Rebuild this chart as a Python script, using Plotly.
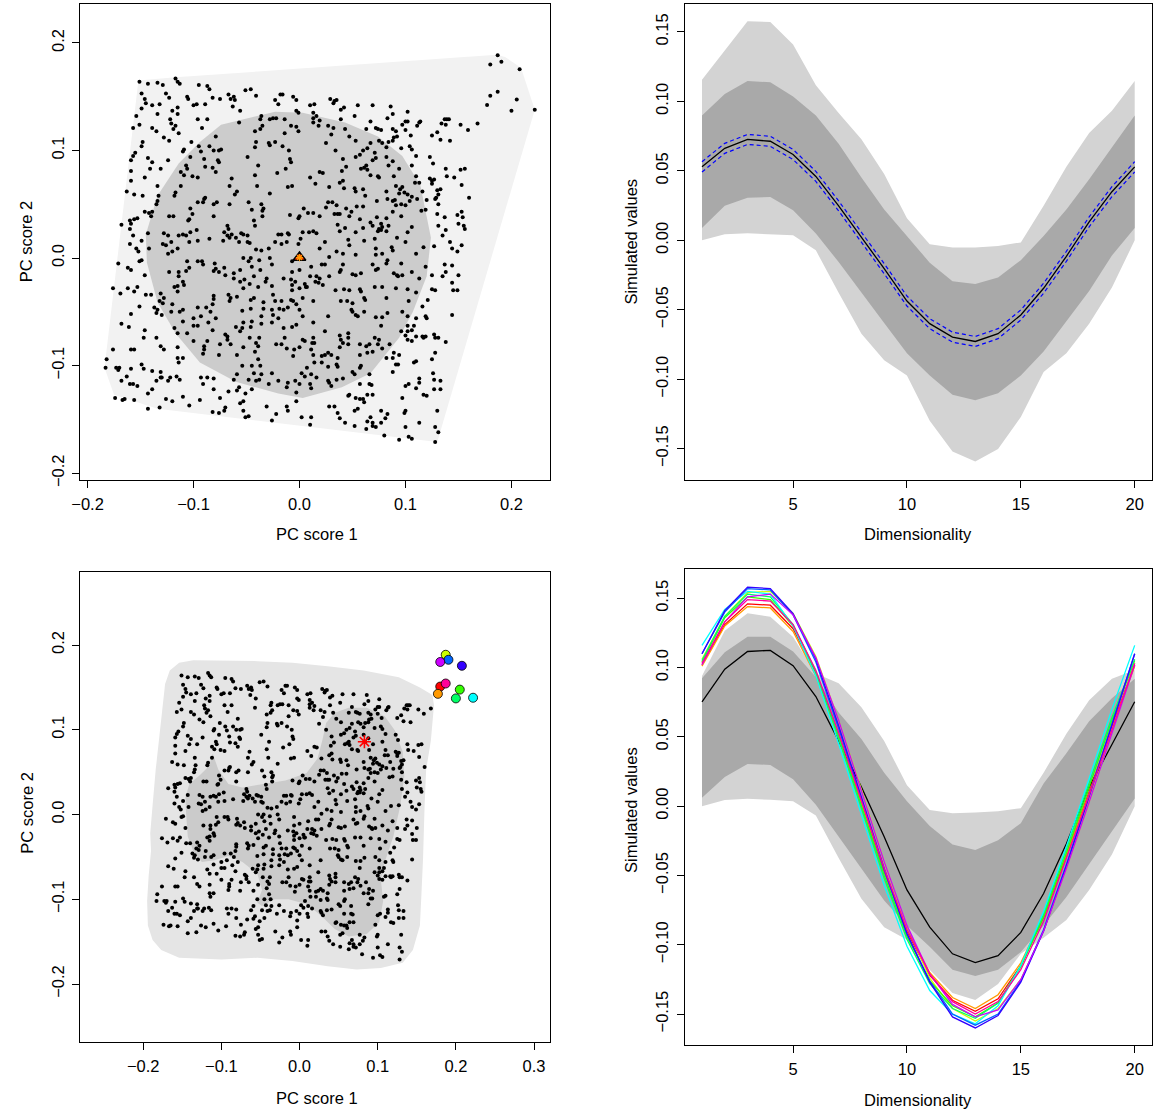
import plotly.graph_objects as go

# ---------------- data ----------------
# PC scores of the sample curves (in units of 0.001)
scores_milli = [
(-151,164),(-143,162),(-134,163),(-129,161),(-117,167),(-115,164),(-113,162),(-95,161),(-87,160),(-85,157),
(-149,153),(-146,148),(-145,144),(-139,142),(-132,143),(-126,153),(-123,149),(-106,150),(-105,148),(-100,142),
(-97,143),(-89,143),(-82,149),(-75,148),(-67,152),(-65,148),(-62,150),(-61,147),(-63,141),(-51,156),
(-46,157),(-41,151),(-18,152),(-16,152),(-23,147),(-20,143),(-6,150),(-3,147),(10,142),(14,143),
(-149,139),(-154,132),(-151,124),(-157,121),(-134,134),(-120,137),(-115,140),(-115,134),(-122,129),(-121,125),
(-117,123),(-114,116),(-119,120),(-139,121),(-135,118),(-96,129),(-87,129),(-92,121),(-56,137),(-57,126),
(-36,132),(-37,129),(-28,129),(-25,130),(-22,130),(-14,129),(-3,137),(-1,135),(-3,122),(-1,118),
(13,135),(13,130),(13,126),(-42,118),(-37,120),(-35,123),(-14,116),(-8,123),
(-148,108),(-149,104),(-155,98),(-157,95),(-159,91),(-143,93),(-139,89),(-141,83),(-146,75),(-159,81),
(-159,72),(-163,62),(-156,59),(-148,58),(-128,112),(-123,109),(-124,91),(-131,83),(-134,67),(-109,101),
(-110,99),(-102,108),(-95,104),(-93,99),(-103,94),(-107,86),(-106,83),(-112,80),(-109,77),(-101,76),
(-96,75),(-90,92),(-89,85),(-85,104),(-81,100),(-76,100),(-74,101),(-79,113),(-77,91),(-79,80),
(-82,84),(-76,89),(-64,74),(-66,67),(-61,59),(-59,62),(-41,108),(-42,103),(-49,94),(-39,86),
(-42,77),(-40,67),(-29,107),(-28,105),(-23,108),(-16,104),(-10,100),(-9,92),(-8,89),(-13,83),
(-21,79),(-11,66),(-7,67),(-28,60),(10,75),(15,69),
(-168,31),(-160,35),(-159,32),(-156,36),(-153,37),(-160,27),(-157,21),(-160,13),(-154,9),(-152,6),
(-149,16),(-146,43),(-142,42),(-139,43),(-140,39),(-135,50),(-133,58),(-134,53),(-143,23),(-142,9),
(-128,23),(-124,21),(-121,15),(-126,12),(-129,13),(-123,39),(-119,39),(-117,61),(-118,58),(-112,67),
(-105,35),(-104,36),(-101,41),(-103,46),(-96,52),(-91,52),(-90,55),(-97,26),(-103,24),(-107,21),
(-114,21),(-110,22),(-104,15),(-115,9),(-120,6),(-124,4),(-81,50),(-78,52),(-66,50),(-89,56),
(-81,39),(-71,24),(-68,30),(-67,27),(-66,19),(-72,16),(-68,21),(-64,22),(-60,19),(-57,15),
(-55,23),(-53,22),(-49,21),(-47,14),(-49,15),(-48,52),(-45,45),(-43,35),(-42,30),(-36,50),
(-34,46),(-35,44),(-35,39),(-41,8),(-36,7),(-29,9),(-23,15),(-20,22),(-17,13),(-17,22),
(-12,15),(-11,23),(-10,22),(-9,40),(0,39),(-1,37),(1,18),(4,46),(8,42),(13,42),
(3,24),(9,24),(13,25),(-1,13),(-85,18),(-96,16),
(29,148),(33,146),(35,147),(32,144),(39,138),(42,140),(55,142),(69,142),(86,141),(88,134),
(102,136),(83,130),(16,132),(19,128),(18,123),(27,123),(32,121),(39,129),(52,132),(67,127),
(72,121),(74,120),(77,119),(63,120),(47,113),(43,120),(30,115),(25,107),(88,120),(91,118),
(92,113),(89,112),(88,109),(97,124),(100,119),(100,127),(102,127),(111,123),(113,126),(114,127),
(105,114),(104,104),(106,101),(96,102),(84,108),(82,103),(78,107),(75,109),(67,107),(64,102),
(60,100),(53,109),(57,96),(53,94),(34,100),(41,92),(44,85),(40,81),(58,83),(61,84),
(63,86),(64,82),(67,77),(69,91),(72,93),(74,76),(75,75),(71,98),(82,94),(84,86),
(88,90),(94,83),(89,76),(110,95),(106,86),(110,76),(113,70),(109,70),(123,94),(126,88),
(125,114),(130,117),(133,110),(134,125),(137,129),(139,129),(141,129),(138,124),(142,109),(152,124),
(159,119),(168,125),(138,83),(139,76),(146,75),(152,82),(156,83),(153,68),(160,56),(123,74),
(125,72),(127,73),(125,69),(130,63),(133,64),(131,59),(128,55),(129,56),(131,50),(116,62),
(120,54),(111,55),(102,59),(99,61),(91,67),(95,64),(97,66),(94,60),(88,53),(90,54),
(96,50),(91,49),(100,49),(104,53),(106,57),(73,53),(82,62),(83,55),(73,38),(82,37),
(96,39),(88,43),(84,30),(77,32),(78,29),(75,27),(74,25),(82,25),(69,30),(67,33),
(57,36),(47,39),(38,41),(36,31),(43,28),(38,25),(53,24),(60,28),(62,58),(60,64),
(53,62),(52,65),(44,46),(49,43),(54,48),(60,48),(19,80),(22,79),(28,66),(38,70),
(41,72),(42,65),(31,52),(27,52),(25,47),(35,49),(33,41),(36,41),(19,39),(16,23),
(19,9),(24,15),(28,1),(35,6),(41,4),(46,17),(47,12),(53,3),(61,16),(71,18),
(72,9),(78,4),(87,10),(88,7),(92,19),(100,15),(102,24),(106,29),(110,4),(117,10),
(127,11),(131,30),(135,21),(138,26),(142,15),(144,9),(149,6),(150,32),(155,30),(156,27),
(153,12),(149,40),(153,43),(154,38),(130,41),(137,38),(119,45),(115,44),(77,26),(72,3),
(-149,-2),(-151,-3),(-171,-5),(-162,-9),(-159,-11),(-146,-16),(-176,-28),(-169,-33),(-162,-28),(-156,-31),
(-153,-27),(-145,-34),(-140,-34),(-151,-45),(-137,-46),(-134,-48),(-129,-42),(-159,-52),(-168,-61),(-161,-64),
(-146,-67),(-147,-74),(-135,-74),(-131,-82),(-128,-85),(-176,-85),(-159,-85),(-156,-85),(-182,-94),(-183,-102),
(-173,-102),(-170,-102),(-171,-104),(-159,-103),(-149,-99),(-147,-103),(-163,-110),(-168,-114),(-160,-117),(-157,-117),
(-153,-119),(-139,-105),(-131,-106),(-130,-111),(-135,-114),(-143,-126),(-139,-122),(-165,-131),(-167,-132),(-174,-130),
(-156,-132),(-143,-140),(-132,-139),(-126,-131),(-120,-133),(-110,-129),(-104,-137),(-94,-132),(-91,-117),(-87,-111),
(-81,-112),(-93,-111),(-81,-122),(-75,-130),(-82,-143),(-76,-144),(-70,-139),(-71,-142),(-67,-124),(-59,-123),
(-57,-120),(-62,-113),(-53,-133),(-56,-135),(-51,-126),(-53,-142),(-51,-148),(-48,-147),(-45,-122),(-31,-138),
(-22,-145),(-26,-151),(-12,-138),(-11,-142),(-3,-133),(-3,-125),(2,-148),(10,-155),(10,-117),(0,-117),
(-12,-120),(-20,-114),(-29,-117),(-41,-114),(-38,-113),(-48,-113),(-59,-108),(-115,-93),(-114,-97),(-115,-83),
(-110,-93),(-116,-110),(-113,-113),(-122,-111),(-124,-114),(-131,-111),
(-90,-85),(-91,-89),(-110,-48),(-113,-50),(-120,-43),(-121,-50),(-118,-65),(-115,-70),(-100,-63),(-86,-60),
(-82,-67),(-90,-82),(-75,-80),(-70,-71),(-68,-73),(-65,-80),(-76,-90),(-59,-90),(-53,-83),(-60,-64),
(-54,-65),(-47,-74),(-38,-74),(-41,-79),(-39,-82),(-42,-87),(-39,-94),(-54,-100),(-45,-100),(-37,-100),
(-43,-107),(-36,-108),(-26,-107),(-11,-116),(-4,-114),(2,-107),(5,-110),(7,-102),(14,-97),(-6,-91),
(-5,-85),(0,-83),(3,-76),(5,-77),(12,-79),(13,-74),(-14,-74),(-22,-80),(-17,-80),(-12,-84),
(-15,-65),(-7,-64),(-3,-62),(3,-54),(-23,-40),(-17,-40),(-6,-40),(-3,-43),(0,-48),(3,-37),
(13,-40),(-25,-34),(-34,-41),(-34,-47),(-36,-54),(-25,-53),(-20,-56),(-26,-48),(-46,-47),(-46,-39),
(-43,-37),(-54,-49),(-65,-37),(-66,-40),(-59,-36),(-67,-34),(-81,-35),(-81,-38),(-96,-46),(-88,-46),
(-84,-50),(-82,-43),(-79,-56),(-93,-54),(-100,-56),(-110,-59),
(-106,-70),(-100,-77),(-87,-77),(-96,-63),(-68,-76),(-56,-68),(-53,-60),(-45,-59),(-46,-64),(-36,-61),
(-26,-60),(-15,-48),(-19,-47),(-11,-46),(-8,-39),(-4,-22),(10,-17),(15,-22),(5,-24),(0,-28),
(6,-27),(-7,-25),(-7,-30),(-8,-20),(-15,-19),(-26,-26),(-32,-22),(-31,-19),(-39,-27),(-47,-24),
(-53,-28),(-43,-17),(-52,-20),(-56,-22),(-62,-19),(-70,-16),(-76,-13),(-79,-10),(-81,-12),(-71,-9),
(-62,-14),(-56,-11),(-48,-3),(-46,0),(-45,-8),(-37,-11),(-26,-6),(-28,0),(-38,-2),(-53,0),
(-80,-5),(-96,-3),(-92,-3),(-91,-6),(-104,-9),(-107,-12),(-114,-13),(-114,-17),(-123,-13),(-106,-3),
(-110,-22),(-109,-25),(-115,-26),(-115,-31),(-118,-27),(-128,-37),(-131,-33),(-132,-40),(-135,-51),(-130,-53),
(-7,-3),(0,-11),(11,-8),(-7,-13),
(83,-2),(21,-6),(24,-6),(16,-17),(19,-19),(28,-17),(38,-13),(39,-11),(41,-6),(50,-15),
(53,-16),(58,-14),(69,-6),(74,-10),(72,-11),(82,-5),(89,-14),(92,-16),(93,-17),(97,-16),
(96,-5),(106,-13),(113,-19),(119,-8),(125,-16),(135,-17),(138,-13),(137,-6),(144,-7),(150,-16),
(144,-23),(145,-30),(149,-30),(125,-29),(128,-30),(121,-39),(116,-45),(119,-54),(120,-56),(144,-53),
(7,-27),(18,-23),(22,-25),(34,-30),(42,-29),(47,-30),(57,-29),(58,-31),(61,-37),(62,-39),
(71,-27),(78,-27),(82,-37),(91,-28),(102,-29),(110,-32),(103,-40),(97,-50),(102,-54),(110,-56),
(13,-60),(27,-54),(39,-40),(45,-40),(50,-42),(49,-48),(50,-50),(53,-53),(55,-54),(61,-50),
(72,-55),(78,-55),(83,-51),(75,-76),(71,-74),(66,-80),(63,-82),(74,-80),(69,-87),(77,-63),
(102,-68),(106,-67),(102,-63),(108,-63),(24,-68),(38,-72),(46,-70),(46,-74),(39,-76),(41,-79),
(46,-80),(38,-83),(14,-79),(11,-85),(13,-90),(21,-91),(24,-90),(27,-88),(30,-90),(36,-93),
(57,-80),(57,-90),(64,-88),(21,-97),(27,-101),(35,-99),(36,-101),(11,-108),(16,-111),(11,-121),
(27,-114),(28,-116),(30,-119),(35,-113),(41,-112),(50,-106),(52,-108),(57,-102),(58,-100),(66,-108),
(57,-117),(66,-117),(68,-118),(47,-127),(46,-128),(53,-130),(57,-131),(60,-131),(61,-134),(64,-127),
(69,-127),(11,-148),(28,-138),(33,-138),(36,-144),(38,-149),(43,-153),(52,-142),(55,-140),(52,-156),
(63,-159),(69,-156),(72,-157),(80,-165),(94,-169),(103,-166),(106,-168),(88,-93),(89,-88),(94,-90),
(91,-99),(93,-99),(110,-96),(108,-97),(88,-106),(100,-119),(103,-117),(97,-130),(113,-112),(110,-121),
(113,-116),(117,-127),(120,-128),(126,-107),(127,-113),(133,-114),(133,-122),(127,-122),(130,-142),(131,-162),
(128,-171),(128,-157),(100,-142),(99,-144),(113,-153),(100,-157),(83,-145),(81,-149),(77,-153),(67,-148),
(69,-153),(77,-142),(64,-152),(96,-68),(100,-72),(102,-76),(106,-77),(110,-73),(116,-73),(117,-74),
(119,-73),(127,-71),(128,-74),(131,-74),(138,-78),(128,-88),(125,-94),(82,-93),(78,-84),(85,-80),
]
pc_score1 = [p[0] / 1000 for p in scores_milli]
pc_score2 = [p[1] / 1000 for p in scores_milli]

# outlying curves (PC scores) and their colours
outlier_pc1 = [0.180, 0.177, 0.187, 0.205, 0.200, 0.222, 0.1905, 0.2077, 0.180, 0.187]
outlier_pc2 = [0.151, 0.1424, 0.1885, 0.1474, 0.137, 0.1378, 0.1826, 0.1755, 0.180, 0.1546]
outlier_colors = ["#FF0000", "#FF9900", "#CCFF00", "#33FF00", "#00FF66",
                  "#00FFFF", "#0066FF", "#3300FF", "#CC00FF", "#FF0099"]

# bivariate bagplot: loop and bag polygons, median
loop_pc1 = [-0.152, -0.117, 0.186, 0.194, 0.209, 0.222, 0.130, -0.134, -0.175, -0.184]
loop_pc2 = [0.165, 0.168, 0.189, 0.187, 0.177, 0.138, -0.171, -0.140, -0.127, -0.102]
bag_pc1 = [-0.074, -0.023, 0.003, 0.043, 0.074, 0.097, 0.114, 0.124, 0.120, 0.107, 0.094, 0.067,
           0.040, 0.003, -0.020, -0.060, -0.094, -0.117, -0.134, -0.144, -0.145, -0.134, -0.114, -0.094]
bag_pc2 = [0.124, 0.136, 0.135, 0.126, 0.113, 0.095, 0.068, 0.019, -0.017, -0.050, -0.074, -0.107,
           -0.120, -0.130, -0.126, -0.115, -0.097, -0.070, -0.041, -0.004, 0.022, 0.058, 0.088, 0.108]
median_pc = (0.0, 0.0005)

# bivariate HDR: outer and inner regions, mode
hdr_outer_pc1 = [-0.154, -0.100, -0.054, -0.009, 0.036, 0.073, 0.104, 0.132, 0.145, 0.154, 0.156, 0.158,
                 0.160, 0.162, 0.168, 0.172, 0.170, 0.154, 0.127, 0.082, 0.036, -0.009, -0.054, -0.100,
                 -0.136, -0.154, -0.166, -0.172, -0.175, -0.179, -0.184, -0.188, -0.191, -0.190, -0.193,
                 -0.195, -0.194, -0.188, -0.177]
hdr_outer_pc2 = [-0.169, -0.171, -0.169, -0.173, -0.179, -0.183, -0.181, -0.175, -0.160, -0.131, -0.093,
                 -0.052, 0.011, 0.053, 0.087, 0.129, 0.141, 0.150, 0.162, 0.170, 0.175, 0.179, 0.181,
                 0.182, 0.182, 0.179, 0.170, 0.154, 0.129, 0.095, 0.053, 0.011, -0.022, -0.043, -0.072,
                 -0.102, -0.131, -0.148, -0.160]
hdr_inner_pc1 = [-0.145, -0.146, -0.141, -0.127, -0.116, -0.111, -0.104, -0.091, -0.073, -0.045, -0.018,
                 0.009, 0.023, 0.029, 0.034, 0.045, 0.063, 0.086, 0.109, 0.122, 0.132, 0.134, 0.129,
                 0.120, 0.109, 0.104, 0.107, 0.102, 0.086, 0.063, 0.045, 0.027, 0.009, -0.014, -0.032,
                 -0.048, -0.054, -0.048, -0.054, -0.073, -0.091, -0.109, -0.125, -0.136, -0.143]
hdr_inner_pc2 = [-0.001, 0.020, 0.036, 0.047, 0.057, 0.072, 0.053, 0.036, 0.032, 0.036, 0.040, 0.049,
                 0.066, 0.087, 0.108, 0.120, 0.126, 0.126, 0.116, 0.099, 0.074, 0.045, 0.011, -0.026,
                 -0.056, -0.077, -0.102, -0.127, -0.141, -0.144, -0.135, -0.119, -0.106, -0.100, -0.100,
                 -0.108, -0.104, -0.089, -0.070, -0.056, -0.049, -0.054, -0.056, -0.043, -0.026]
mode_pc = (0.083, 0.0859)

# functional plots
dimensionality = list(range(1, 21))
fbag_outer_upper = [0.1155, 0.1364, 0.1576, 0.1571, 0.1410, 0.1117, 0.0917, 0.0728, 0.0478, 0.0158,
                    -0.0028, -0.0051, -0.0051, -0.0041, -0.0015, 0.0248, 0.0529, 0.0772, 0.0933, 0.1147]
fbag_outer_lower = [0.0, 0.0043, 0.0051, 0.0043, 0.0036, -0.0072, -0.0378, -0.0672, -0.0864, -0.0973,
                    -0.1298, -0.1520, -0.1592, -0.1502, -0.1272, -0.0948, -0.0812, -0.0600, -0.0340, 0.0]
fbag_inner_upper = [0.0899, 0.1053, 0.1147, 0.1137, 0.1035, 0.0899, 0.0695, 0.0452, 0.0222, 0.0031,
                    -0.0161, -0.0294, -0.0314, -0.0268, -0.0143, 0.0031, 0.0222, 0.0439, 0.0669, 0.0899]
fbag_inner_lower = [0.0089, 0.0248, 0.0307, 0.0312, 0.0217, 0.0049, -0.0156, -0.0373, -0.0595, -0.0812,
                    -0.0973, -0.1111, -0.1152, -0.1101, -0.0973, -0.0800, -0.0583, -0.0365, -0.0110, 0.0089]
fbag_median = [0.0529, 0.0662, 0.0726, 0.0713, 0.0618, 0.0460, 0.0248, 0.0023, -0.0204, -0.0437,
               -0.0600, -0.0697, -0.0728, -0.0672, -0.0537, -0.0345, -0.0115, 0.0133, 0.0350, 0.0529]
fbag_ci_upper = [0.0566, 0.0698, 0.0762, 0.0749, 0.0654, 0.0496, 0.0284, 0.0059, -0.0168, -0.0401,
                 -0.0564, -0.0661, -0.0692, -0.0636, -0.0501, -0.0309, -0.0079, 0.0169, 0.0386, 0.0566]
fbag_ci_lower = [0.0492, 0.0626, 0.0690, 0.0677, 0.0582, 0.0424, 0.0212, -0.0013, -0.0240, -0.0473,
                 -0.0636, -0.0733, -0.0764, -0.0708, -0.0573, -0.0381, -0.0151, 0.0097, 0.0314, 0.0492]

fhdr_outer_upper = [0.0940, 0.1265, 0.1392, 0.1367, 0.1220, 0.0957, 0.0886, 0.0714, 0.0471, 0.0151,
                    -0.0028, -0.0051, -0.0046, -0.0036, -0.0015, 0.0241, 0.0522, 0.0765, 0.0919, 0.0983]
fhdr_outer_lower = [0.0, 0.0044, 0.0054, 0.0046, 0.0036, -0.0067, -0.0374, -0.0668, -0.0873, -0.0963,
                    -0.1180, -0.1347, -0.1398, -0.1283, -0.1065, -0.0950, -0.0822, -0.0604, -0.0348, 0.0]
fhdr_inner_upper = [0.0923, 0.1110, 0.1222, 0.1222, 0.1116, 0.0932, 0.0676, 0.0484, 0.0241, 0.0036,
                    -0.0143, -0.0276, -0.0317, -0.0246, -0.0123, 0.0164, 0.0381, 0.0612, 0.0778, 0.0919]
fhdr_inner_lower = [0.0061, 0.0210, 0.0305, 0.0297, 0.0195, 0.0010, -0.0220, -0.0450, -0.0681, -0.0860,
                    -0.1014, -0.1180, -0.1226, -0.1180, -0.1052, -0.0860, -0.0655, -0.0425, -0.0182, 0.0056]
fhdr_mode = [0.0753, 0.0988, 0.1116, 0.1124, 0.1014, 0.0791, 0.0471, 0.0138, -0.0220, -0.0604,
             -0.0873, -0.1065, -0.1129, -0.1078, -0.0911, -0.0630, -0.0271, 0.0138, 0.0445, 0.0753]

# outlying curves (units of 0.001), same order as outlier_colors
outlier_curves_milli = [
    [102, 131, 146, 145, 128, 96, 50, 2, -47, -90, -122, -140, -148, -139, -115, -80, -36, 10, 57, 102],
    [101, 130, 144, 143, 126, 94, 49, 2, -46, -89, -120, -138, -146, -136, -113, -79, -35, 9, 56, 101],
    [106, 137, 154, 155, 139, 108, 62, 12, -40, -87, -124, -146, -155, -146, -125, -90, -45, 3, 53, 103],
    [104, 136, 151, 149, 130, 97, 50, 0, -50, -94, -126, -144, -152, -142, -116, -80, -34, 14, 62, 105],
    [105, 137, 153, 151, 131, 97, 49, -2, -52, -96, -128, -146, -153, -142, -115, -78, -31, 17, 64, 106],
    [116, 142, 155, 153, 130, 94, 45, -6, -57, -101, -133, -150, -157, -144, -115, -76, -29, 20, 70, 116],
    [110, 140, 157, 156, 138, 104, 56, 5, -46, -92, -126, -150, -158, -150, -126, -89, -42, 8, 59, 110],
    [110, 141, 158, 157, 139, 106, 58, 7, -45, -92, -127, -152, -160, -151, -127, -90, -43, 7, 58, 110],
    [102, 133, 151, 153, 138, 107, 62, 11, -40, -86, -121, -143, -152, -147, -125, -90, -45, 3, 52, 102],
    [103, 133, 149, 148, 131, 98, 53, 4, -45, -89, -121, -141, -150, -141, -118, -83, -38, 8, 55, 103],
]

# ---------------- styling ----------------
W, H = 1153, 1120
FONT = "Liberation Sans, Arial, Helvetica, sans-serif"
FS = 16.5
LIGHT_BAG, DARK_BAG = "#f2f2f2", "#cccccc"
HDR_OUT, HDR_IN = "#e5e5e5", "#cbcbcb"
BAND_OUT, BAND_IN = "#d3d3d3", "#a9a9a9"

fig = go.Figure()


def poly(xs, ys, color, xa, ya):
    fig.add_trace(go.Scatter(x=list(xs) + [xs[0]], y=list(ys) + [ys[0]], mode="lines",
                             fill="toself", fillcolor=color, line=dict(width=0, color=color),
                             hoverinfo="skip", showlegend=False, xaxis=xa, yaxis=ya))


def band(upper, lower, color, xa, ya):
    xs = dimensionality + dimensionality[::-1]
    ys = upper + lower[::-1]
    poly(xs, ys, color, xa, ya)


# --- top-left: bivariate bagplot ---
poly(loop_pc1, loop_pc2, LIGHT_BAG, "x", "y")
poly(bag_pc1, bag_pc2, DARK_BAG, "x", "y")
fig.add_trace(go.Scatter(x=pc_score1 + outlier_pc1, y=pc_score2 + outlier_pc2, mode="markers",
                         marker=dict(size=4, color="black"), showlegend=False, xaxis="x", yaxis="y"))
fig.add_trace(go.Scatter(x=[median_pc[0]], y=[median_pc[1]], mode="markers",
                         marker=dict(symbol="triangle-up", size=11, color="#ff3300",
                                     line=dict(color="black", width=1.5)),
                         showlegend=False, xaxis="x", yaxis="y"))
fig.add_trace(go.Scatter(x=[median_pc[0]], y=[median_pc[1]], mode="markers",
                         marker=dict(symbol="asterisk-open", size=6, color="#ff9900",
                                     line=dict(width=1.2)),
                         showlegend=False, xaxis="x", yaxis="y"))

# --- top-right: functional bagplot ---
band(fbag_outer_upper, fbag_outer_lower, BAND_OUT, "x2", "y2")
band(fbag_inner_upper, fbag_inner_lower, BAND_IN, "x2", "y2")
fig.add_trace(go.Scatter(x=dimensionality, y=fbag_median, mode="lines",
                         line=dict(color="black", width=1.3), showlegend=False, xaxis="x2", yaxis="y2"))
for ci in (fbag_ci_upper, fbag_ci_lower):
    fig.add_trace(go.Scatter(x=dimensionality, y=ci, mode="lines",
                             line=dict(color="#0000ff", width=1.2, dash="4px,3px"),
                             showlegend=False, xaxis="x2", yaxis="y2"))

# --- bottom-left: bivariate HDR boxplot ---
poly(hdr_outer_pc1, hdr_outer_pc2, HDR_OUT, "x3", "y3")
poly(hdr_inner_pc1, hdr_inner_pc2, HDR_IN, "x3", "y3")
fig.add_trace(go.Scatter(x=pc_score1, y=pc_score2, mode="markers",
                         marker=dict(size=4, color="black"), showlegend=False, xaxis="x3", yaxis="y3"))
fig.add_trace(go.Scatter(x=[mode_pc[0]], y=[mode_pc[1]], mode="markers",
                         marker=dict(symbol="asterisk-open", size=11, color="#ff0000", line=dict(width=1.6)),
                         showlegend=False, xaxis="x3", yaxis="y3"))
fig.add_trace(go.Scatter(x=outlier_pc1, y=outlier_pc2, mode="markers",
                         marker=dict(size=9, color=outlier_colors, line=dict(color="black", width=0.8)),
                         showlegend=False, xaxis="x3", yaxis="y3"))

# --- bottom-right: functional HDR boxplot ---
band(fhdr_outer_upper, fhdr_outer_lower, BAND_OUT, "x4", "y4")
band(fhdr_inner_upper, fhdr_inner_lower, BAND_IN, "x4", "y4")
fig.add_trace(go.Scatter(x=dimensionality, y=fhdr_mode, mode="lines",
                         line=dict(color="black", width=1.3), showlegend=False, xaxis="x4", yaxis="y4"))
for curve, col in zip(outlier_curves_milli, outlier_colors):
    fig.add_trace(go.Scatter(x=dimensionality, y=[v / 1000 for v in curve], mode="lines",
                             line=dict(color=col, width=1.3), showlegend=False, xaxis="x4", yaxis="y4"))


# ---------------- axes ----------------
def px_x(a, b):
    return [a / W, b / W]


def px_y(top, bottom):
    return [1 - bottom / H, 1 - top / H]


def axis(domain, rng, tickvals, fmt, anchor, vertical=False):
    d = dict(domain=domain, range=rng, tickvals=tickvals, tickformat=fmt, anchor=anchor,
             showgrid=False, zeroline=False, showline=True, linecolor="black", linewidth=1,
             mirror=True, ticks="outside", ticklen=7, tickwidth=1, tickcolor="black",
             tickfont=dict(family=FONT, size=FS, color="black"), ticklabelstandoff=2)
    if vertical:
        d["tickangle"] = -90
    return d


tl_x, tl_y = px_x(72, 545.4), px_y(3.6, 483)
tr_x, tr_y = px_x(681, 1152), px_y(3.6, 483)
bl_x, bl_y = px_x(72, 545.4), px_y(576, 1048.6)
br_x, br_y = px_x(681, 1152), px_y(573, 1052)

pc_ticks = [-0.2, -0.1, 0.0, 0.1, 0.2]
fig.update_layout(
    xaxis=axis(tl_x, [-0.2067, 0.2365], pc_ticks, ".1f", "y"),
    yaxis=axis(tl_y, [-0.2063, 0.2366], pc_ticks, ".1f", "x", True),
    xaxis2=axis(tr_x, [0.24, 20.76], [5, 10, 15, 20], "d", "y2"),
    yaxis2=axis(tr_y, [-0.1725, 0.1704], [-0.15, -0.10, -0.05, 0.0, 0.05, 0.10, 0.15], ".2f", "x2", True),
    xaxis3=axis(bl_x, [-0.2803, 0.3206], [-0.2, -0.1, 0.0, 0.1, 0.2, 0.3], ".1f", "y3"),
    yaxis3=axis(bl_y, [-0.2685, 0.2857], pc_ticks, ".1f", "x3", True),
    xaxis4=axis(br_x, [0.24, 20.76], [5, 10, 15, 20], "d", "y4"),
    yaxis4=axis(br_y, [-0.1726, 0.1708], [-0.15, -0.10, -0.05, 0.0, 0.05, 0.10, 0.15], ".2f", "x4", True),
)


def label(text, xpx, ypx, angle=0):
    fig.add_annotation(text=text, x=xpx / W, y=1 - ypx / H, xref="paper", yref="paper",
                       showarrow=False, textangle=angle,
                       font=dict(family=FONT, size=FS, color="black"),
                       xanchor="center", yanchor="middle")


label("PC score 1", 310, 537)
label("PC score 2", 18, 243, -90)
label("Dimensionality", 916, 537)
label("Simulated values", 627, 243, -90)
label("PC score 1", 310, 1105)
label("PC score 2", 18, 818, -90)
label("Dimensionality", 916, 1107)
label("Simulated values", 627, 815, -90)

fig.update_layout(width=W, height=H, margin=dict(l=0, r=0, t=0, b=0),
                  paper_bgcolor="white", plot_bgcolor="white", showlegend=False)

fig.write_html(
    "out.html", config={"displayModeBar": False},
    post_script=("document.documentElement.style.margin='0px';"
                 "document.documentElement.style.overflow='hidden';"
                 "document.body.style.margin='0px';document.body.style.padding='0px';"
                 "document.body.style.overflow='hidden';"
                 "var gd=document.getElementById('{plot_id}');"
                 "gd.style.position='absolute';gd.style.left='0px';gd.style.top='0px';"))
